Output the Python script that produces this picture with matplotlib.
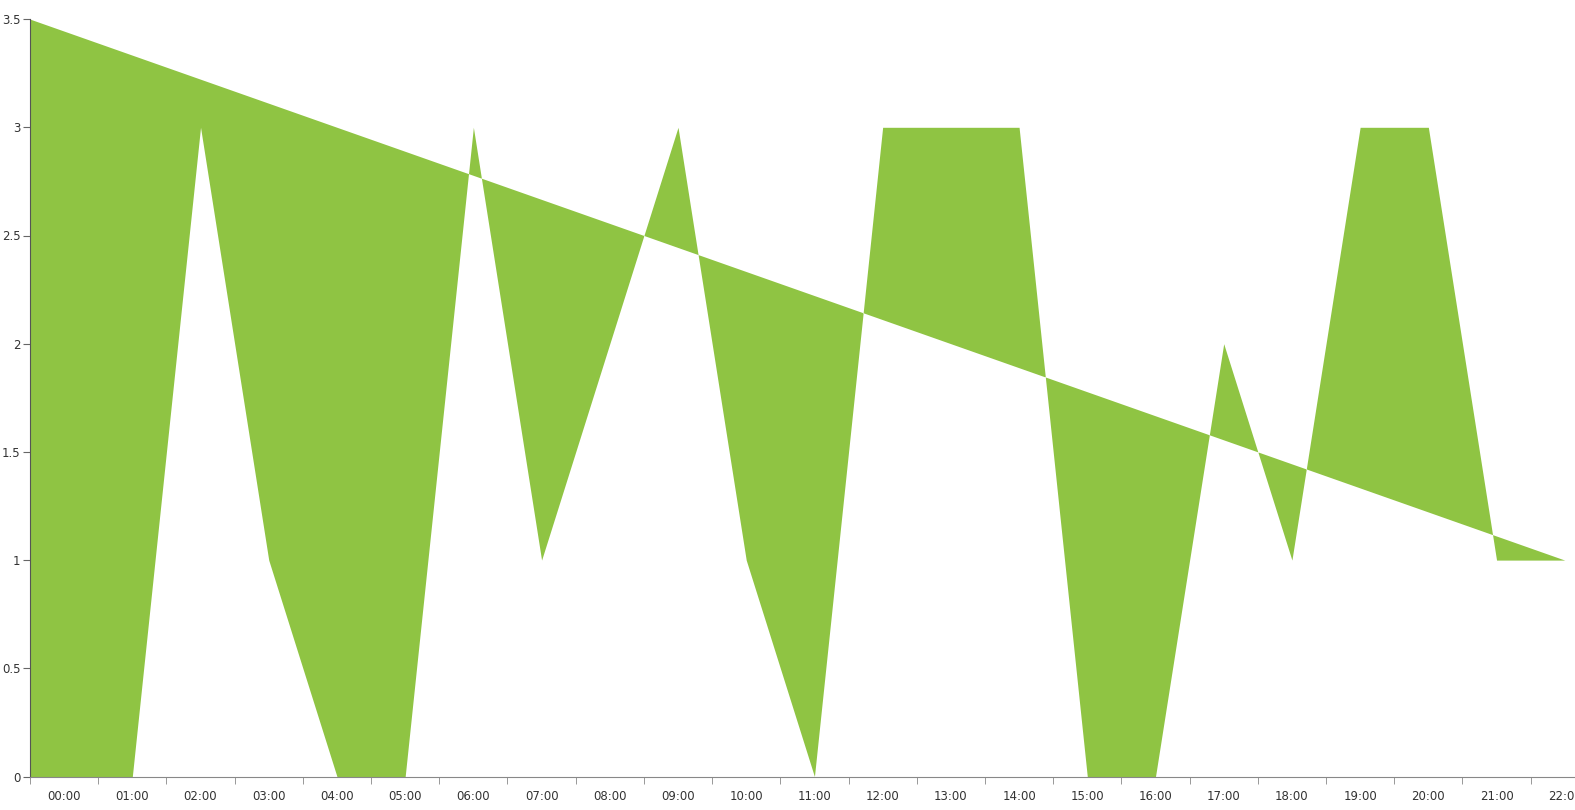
import matplotlib
matplotlib.use('Agg')
import matplotlib.pyplot as plt
import numpy as np

# hourly categories, value per hour (index 0 = 00:00)
hours = ["%02d:00" % h for h in range(23)]
values = [0, 0, 3, 1, 0, 0, 3, 1, 2, 3, 1, 0, 3, 3, 3, 0, 0, 2, 1, 3, 3, 1, 1]
# the series also starts at the left axis edge with the first value
start_value = 0

# straight trend line from left edge to last category
trend_x = [-0.5, 22]
trend_y = [3.5, 1]

green = '#8fc443'

fig = plt.figure(figsize=(15.75, 8.1), dpi=100)
ax = fig.add_axes([30 / 1575, 33.5 / 810, 1545 / 1575, 757.4 / 810])

x = np.concatenate([[-0.5], np.arange(len(values))])
y = np.array([start_value] + values, dtype=float)
trend = np.interp(x, trend_x, trend_y)

ax.fill_between(x, y, trend, color=green, linewidth=0, interpolate=True)

ax.set_xlim(-0.5, 22.15)
ax.set_ylim(0, 3.5)

# labels at category centres, tick marks at band edges
ax.set_xticks(np.arange(len(hours)))
ax.set_xticklabels(hours)
ax.set_xticks(np.arange(len(hours)) - 0.5, minor=True)
ax.tick_params(axis='x', which='major', length=0, pad=10, labelsize=8.5, colors='#333333')
ax.tick_params(axis='x', which='minor', length=5, color='#888888', direction='out')

yt = [0, 0.5, 1, 1.5, 2, 2.5, 3, 3.5]
ax.set_yticks(yt)
ax.set_yticklabels(["%g" % v for v in yt])
ax.tick_params(axis='y', length=5, color='#666666', labelsize=8.5, labelcolor='#333333', pad=2)

for s in ['top', 'right']:
    ax.spines[s].set_visible(False)
ax.spines['left'].set_color('#555555')
ax.spines['bottom'].set_color('#888888')

fig.savefig('out.png', dpi=100)
